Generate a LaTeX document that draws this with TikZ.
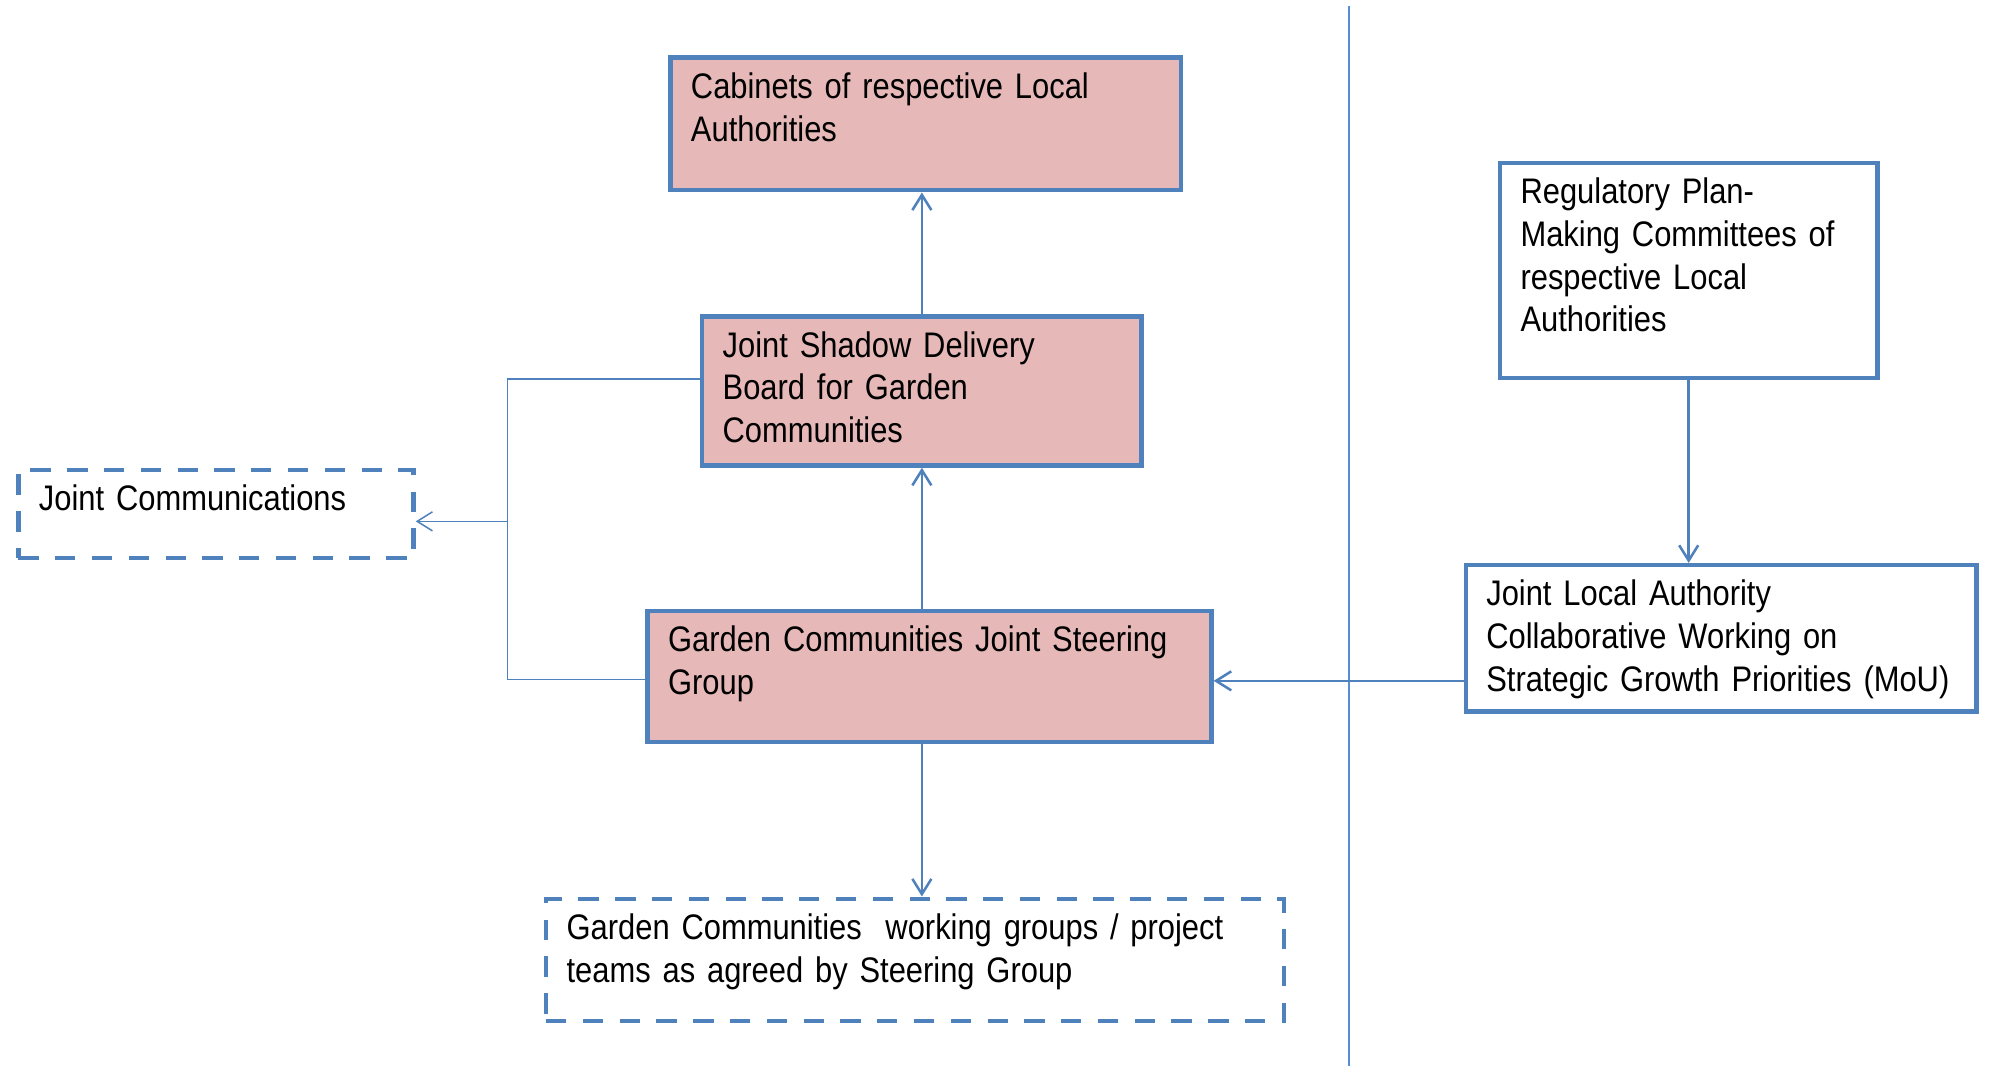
\documentclass[tikz,border=0pt]{standalone}
\usepackage{fontspec}
\setmainfont{Liberation Sans}[FakeStretch=0.87, WordSpace=0.8]
\usetikzlibrary{arrows.meta}

\definecolor{boxblue}{RGB}{79,129,189}
\definecolor{boxpink}{RGB}{230,185,184}
\definecolor{lineblue}{RGB}{85,142,213}

\begin{document}
\begin{tikzpicture}[x=0.5pt, y=-0.5pt,
  every node/.style={font=\fontsize{14pt}{16.8pt}\selectfont, anchor=north west,
    align=left, inner xsep=8.1pt, inner ysep=6pt, text height=10.1pt,
    line width=1.75pt, draw=boxblue},
  board/.style={fill=boxpink},
  panel/.style={fill=white},
  team/.style={fill=white, dash pattern=on 8pt off 6.5pt},
  link/.style={draw=boxblue, line width=1pt, -{Straight Barb[length=6pt,width=7.5pt]}},
  feed/.style={draw=boxblue, line width=0.6pt}]

\useasboundingbox (0,0) rectangle (1568,840); %% page size

%% split between the two sides
\draw[lineblue, line width=1pt] (1063.5,5) -- (1063.5,840);

\node[board, text width=185.05pt, text depth=30.15pt] (cab) at (526.75,43.75)
  {Cabinets of respective Local\\Authorities};
\node[board, text width=157.05pt, text depth=36.65pt] (shadow) at (551.75,247.75)
  {Joint Shadow Delivery\\Board for Garden\\Communities};
\node[board, text width=206.05pt, text depth=29.65pt] (steer) at (508.75,479.75)
  {Garden Communities Joint Steering\\Group};
\node[team, text width=139.55pt, text depth=12.65pt] (comms) at (12.75,368.75)
  {Joint Communications};
\node[team, text width=274.55pt, text depth=26.15pt] (work) at (428.75,706.75)
  {Garden Communities~ working groups / project\\teams as agreed by Steering Group};

\node[panel, text width=132.55pt, text depth=62.65pt] (reg) at (1180.75,126.75)
  {Regulatory Plan-\\Making Committees of\\respective Local\\Authorities};
\node[panel, text width=185.05pt, text depth=35.65pt] (jla) at (1153.75,443.75)
  {Joint Local Authority\\Collaborative Working on\\Strategic~Growth~Priorities~(MoU)};

\draw[link] (shadow.north) -- (shadow.north |- cab.south);
\draw[link] (steer.north -| shadow.south) -- (shadow.south);
\draw[link] (steer.south -| shadow.south) -- (work.north -| shadow.south);
\draw[link] (reg.south) -- (reg.south |- jla.north);
\draw[link] ([yshift=-1.75pt]steer.east -| jla.west) -- ([yshift=-1.75pt]steer.east);

%% bracket to communications
\coordinate (fork) at (400,411);
\draw[feed] ([yshift=4.75pt]shadow.west) -| (fork) |- ([yshift=-1.25pt]steer.west);
\draw[feed, -{Straight Barb[length=6pt,width=7.5pt]}] (fork) -- (fork -| comms.east);

\end{tikzpicture}
\end{document}
